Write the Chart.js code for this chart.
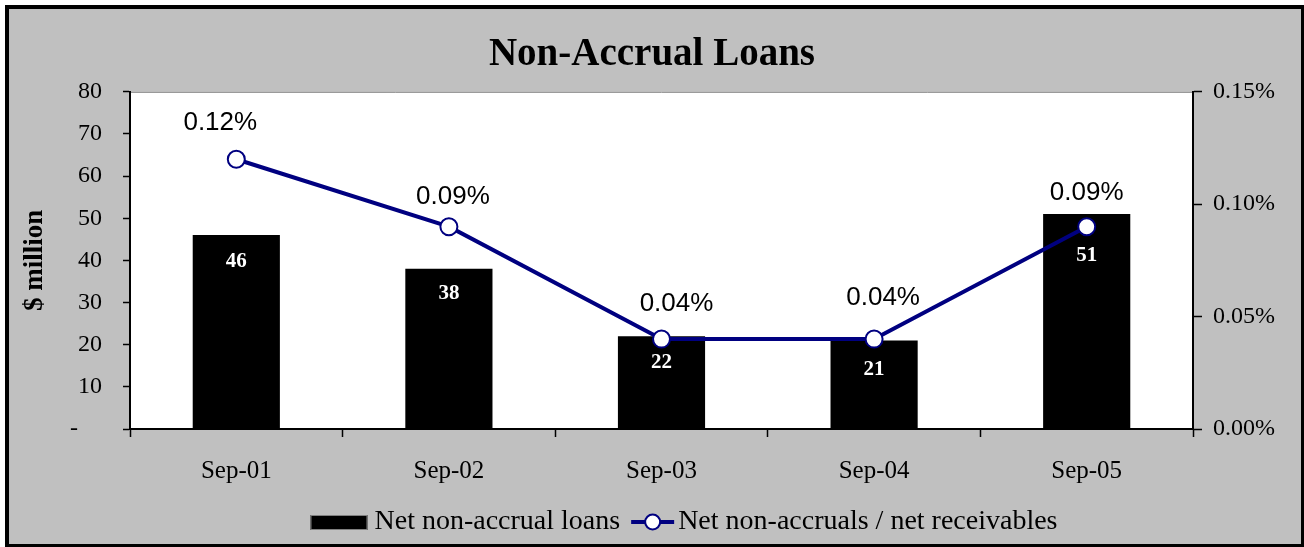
<!DOCTYPE html>
<html>
<head>
<meta charset="utf-8">
<title>Non-Accrual Loans</title>
<script src="https://cdn.jsdelivr.net/npm/chart.js@4.4.0/dist/chart.umd.min.js"></script>
<style>
  html, body { margin: 0; padding: 0; background: #fff; }
  #wrap { width: 1304px; height: 547px; }
</style>
</head>
<body>
<div id="wrap"><canvas id="chart" width="1304" height="547"></canvas></div>
<script>
/*=================================
      data
=================================*/
var categories = ["Sep-01", "Sep-02", "Sep-03", "Sep-04", "Sep-05"];
var loanValues = [46, 38, 22, 21, 51];
var ratioValues = [0.12, 0.09, 0.04, 0.04, 0.09];
var loanLabel = "Net non-accrual loans";
var ratioLabel = "Net non-accruals / net receivables";

var SERIF = "'Liberation Serif', 'Times New Roman', serif";
var SANS = "'Liberation Sans', Arial, sans-serif";
var NAVY = "#000080";

/*=================================
      background + plot frame
=================================*/
const frame = {
  id: "frame",
  beforeDraw(chart) {
    const c = chart.ctx;
    const a = chart.chartArea;
    c.save();
    c.fillStyle = "#fff";
    c.fillRect(0, 0, chart.width, chart.height);
    c.fillStyle = "#000";
    c.fillRect(5, 5, chart.width - 5, chart.height - 5);
    c.fillStyle = "#c0c0c0";
    c.fillRect(9, 9, chart.width - 12, chart.height - 12);
    c.fillStyle = "#fff";
    c.fillRect(a.left, a.top, a.right - a.left, a.bottom - a.top);
    c.strokeStyle = "#808080";
    c.lineWidth = 1;
    c.beginPath();
    c.moveTo(a.left, a.top + 0.5);
    c.lineTo(a.right, a.top + 0.5);
    c.stroke();
    c.restore();
  },
};

/*=================================
      value labels
=================================*/
const valueLabels = {
  id: "valueLabels",
  afterDatasetsDraw(chart, args, opts) {
    const c = chart.ctx;
    c.save();
    c.textAlign = "center";
    c.textBaseline = "middle";

    // bar values, white inside the bar
    c.fillStyle = "#fff";
    c.font = "bold 21px " + SERIF;
    chart.getDatasetMeta(1).data.forEach((bar, i) => {
      c.fillText(String(loanValues[i]), bar.x, bar.y + opts.barDrop[i]);
    });

    // ratio values above the points
    c.fillStyle = "#000";
    c.font = "26px " + SANS;
    chart.getDatasetMeta(0).data.forEach((pt, i) => {
      c.fillText(ratioValues[i].toFixed(2) + "%", pt.x + opts.lineShift[i], pt.y - opts.lineRise[i]);
    });
    c.restore();
  },
};

/*=================================
      legend (bar box + line/marker)
=================================*/
const bottomLegend = {
  id: "bottomLegend",
  afterDraw(chart, args, opts) {
    const c = chart.ctx;
    c.save();
    c.font = "28px " + SERIF;
    const w1 = c.measureText(loanLabel).width;
    const w2 = c.measureText(ratioLabel).width;
    const total = 57 + 7 + w1 + 11 + 43 + 4 + w2;
    let x = opts.centerX - total / 2;
    const y = opts.y;

    c.fillStyle = "#000";
    c.fillRect(x, y - 7, 57, 15);
    c.strokeStyle = "#808080";
    c.lineWidth = 1;
    c.strokeRect(x + 0.5, y - 6.5, 56, 14);
    x += 57 + 7;

    c.textAlign = "left";
    c.textBaseline = "middle";
    c.fillStyle = "#000";
    c.fillText(loanLabel, x, y);
    x += w1 + 11;

    c.strokeStyle = NAVY;
    c.lineWidth = 4;
    c.beginPath();
    c.moveTo(x, y);
    c.lineTo(x + 43, y);
    c.stroke();
    c.beginPath();
    c.arc(x + 21.5, y, 7.5, 0, Math.PI * 2);
    c.fillStyle = "#fff";
    c.fill();
    c.lineWidth = 2;
    c.stroke();
    x += 43 + 4;

    c.fillStyle = "#000";
    c.fillText(ratioLabel, x, y);
    c.restore();
  },
};

/*=================================
      chart
=================================*/
new Chart("chart", {
  type: "bar",
  data: {
    labels: categories,
    datasets: [
      {
        type: "line",
        label: ratioLabel,
        data: ratioValues,
        yAxisID: "y1",
        order: 1,
        borderColor: NAVY,
        borderWidth: 4,
        pointRadius: 8.5,
        pointBorderWidth: 2,
        pointBackgroundColor: "#fff",
        pointBorderColor: NAVY,
        tension: 0,
      },
      {
        type: "bar",
        label: loanLabel,
        data: loanValues,
        yAxisID: "y",
        order: 2,
        backgroundColor: "#000",
        barPercentage: 0.41,
        categoryPercentage: 1,
      },
    ],
  },
  options: {
    responsive: false,
    animation: false,
    layout: { padding: { left: 0, right: 0, top: 0, bottom: 48 } },
    scales: {
      x: {
        offset: true,
        grid: { offset: true, drawOnChartArea: false, drawTicks: true, tickLength: 8, tickColor: "#000", tickWidth: 1.5 },
        border: { color: "#000", width: 2 },
        ticks: { color: "#000", padding: 19, font: { family: SERIF, size: 25 } },
        afterFit: (s) => { s.height = 70; },
      },
      y: {
        position: "left",
        min: 0,
        max: 80,
        grid: { drawOnChartArea: false, tickLength: 7, tickColor: "#000", tickWidth: 1.5 },
        border: { color: "#000", width: 2 },
        ticks: {
          stepSize: 10,
          color: "#000",
          padding: 21,
          font: { family: SERIF, size: 24 },
          callback: (v) => (v === 0 ? "-    " : v),
        },
        title: {
          display: true,
          text: "$ million",
          color: "#000",
          font: { family: SERIF, size: 27, weight: "bold" },
          padding: { top: 19, bottom: 0 },
        },
        afterFit: (s) => { s.width = 130; },
      },
      y1: {
        position: "right",
        min: 0,
        max: 0.15,
        grid: { drawOnChartArea: false, tickLength: 9, tickColor: "#000", tickWidth: 1.5 },
        border: { color: "#000", width: 2 },
        ticks: {
          stepSize: 0.05,
          color: "#000",
          padding: 11,
          font: { family: SERIF, size: 24 },
          callback: (v) => v.toFixed(2) + "%",
        },
        afterFit: (s) => { s.width = 111; },
      },
    },
    plugins: {
      legend: { display: false },
      tooltip: { enabled: false },
      title: {
        display: true,
        text: "Non-Accrual Loans",
        color: "#000",
        font: { family: SERIF, size: 39, weight: "bold" },
        padding: { top: 32, bottom: 13 },
      },
      valueLabels: {
        barDrop: [26, 25, 26, 29, 42],
        lineShift: [-16, 4, 15, 9, 0],
        lineRise: [36, 30, 35, 41, 34],
      },
      bottomLegend: { centerX: 684, y: 522 },
    },
  },
  plugins: [frame, valueLabels, bottomLegend],
});
</script>
</body>
</html>
